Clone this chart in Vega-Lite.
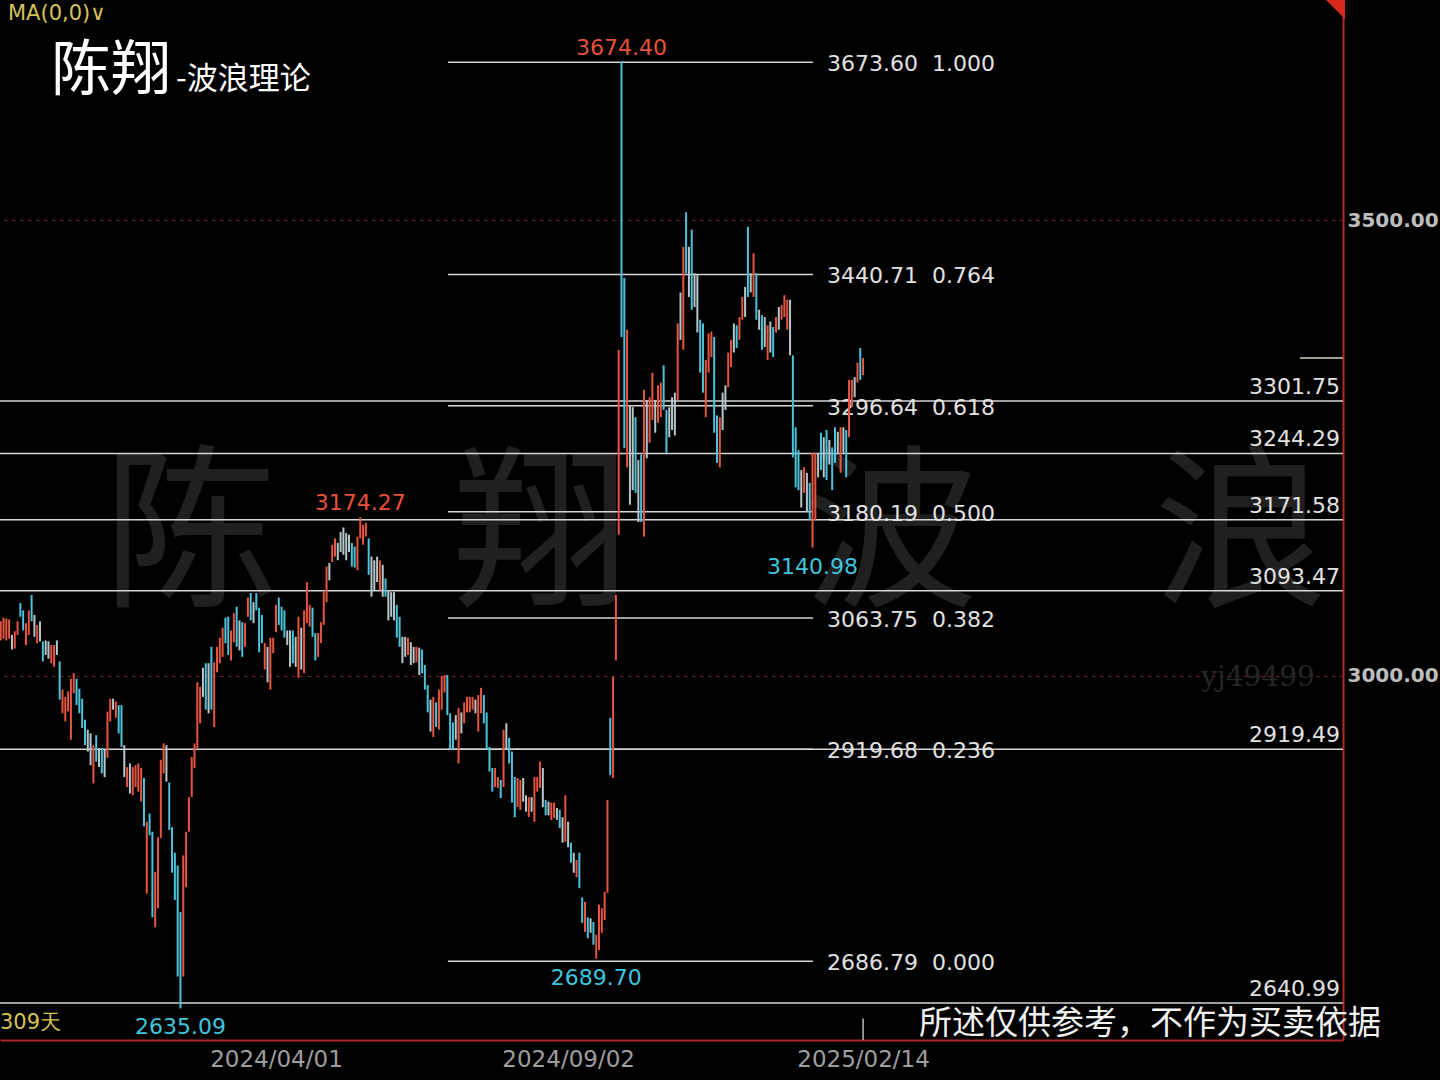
{
"$schema":"https://vega.github.io/schema/vega-lite/v6.json",
"width":1343,"height":1040,"autosize":"none",
"padding":{"left":0,"top":0,"right":97,"bottom":40},
"background":"#000000",
"config":{"view":{"stroke":null}},
"layer":[
{"data":{"values":[{"i":36.4,"p":3149.2,"t":"陈　翔　波　浪"}]},
 "mark":{"type":"text","align":"left","baseline":"middle","font":"Noto Sans CJK SC","fontSize":175,"color":"#202020"},
 "encoding":{"x":{"field":"i","type":"quantitative","scale":{"domain":[-0.25,477.85],"nice":false,"zero":false}},
  "y":{"field":"p","type":"quantitative","scale":{"domain":[2600.4,3742],"nice":false,"zero":false}},
  "text":{"field":"t"}}},
{"data":{"values":[{"i":447.6,"p":2997.8,"t":"yj49499"}]},
 "mark":{"type":"text","align":"center","baseline":"middle","font":"DejaVu Serif","fontSize":28,"color":"#262626"},
 "encoding":{"x":{"field":"i","type":"quantitative","scale":{"domain":[-0.25,477.85],"nice":false,"zero":false}},
  "y":{"field":"p","type":"quantitative","scale":{"domain":[2600.4,3742],"nice":false,"zero":false}},
  "text":{"field":"t"}}},
{"data":{"values":[{"p":3301.75},{"p":3244.29},{"p":3171.58},{"p":3093.47},{"p":2919.49},{"p":2640.99}]},
 "mark":{"type":"rule","color":"#d6d6d6","strokeWidth":1.5},
 "encoding":{"y":{"field":"p","type":"quantitative","scale":{"domain":[2600.4,3742],"nice":false,"zero":false}}}},
{"data":{"values":[{"p":3301.75},{"p":3244.29},{"p":3171.58},{"p":3093.47},{"p":2919.49},{"p":2640.99}]},
 "mark":{"type":"text","align":"right","baseline":"middle","dy":-14,"font":"DejaVu Sans","fontSize":22,"color":"#e2e2e2"},
 "encoding":{"x":{"datum":476.8,"type":"quantitative","scale":{"domain":[-0.25,477.85],"nice":false,"zero":false}},
  "y":{"field":"p","type":"quantitative","scale":{"domain":[2600.4,3742],"nice":false,"zero":false}},
  "text":{"field":"p","type":"quantitative","format":".2f"}}},
{"data":{"values":[{"p":3673.60,"r":"1.000"},{"p":3440.71,"r":"0.764"},{"p":3296.64,"r":"0.618"},{"p":3180.19,"r":"0.500"},{"p":3063.75,"r":"0.382"},{"p":2919.68,"r":"0.236"},{"p":2686.79,"r":"0.000"}]},
 "layer":[
  {"mark":{"type":"rule","color":"#d6d6d6","strokeWidth":1.5},
   "encoding":{"x":{"datum":159.2,"type":"quantitative","scale":{"domain":[-0.25,477.85],"nice":false,"zero":false}},
    "x2":{"datum":289.2},
    "y":{"field":"p","type":"quantitative","scale":{"domain":[2600.4,3742],"nice":false,"zero":false}}}},
  {"mark":{"type":"text","align":"left","baseline":"middle","dy":2,"font":"DejaVu Sans","fontSize":22,"color":"#e2e2e2"},
   "encoding":{"x":{"datum":294.2,"type":"quantitative","scale":{"domain":[-0.25,477.85],"nice":false,"zero":false}},
    "y":{"field":"p","type":"quantitative","scale":{"domain":[2600.4,3742],"nice":false,"zero":false}},
    "text":{"field":"p","type":"quantitative","format":".2f"}}},
  {"mark":{"type":"text","align":"left","baseline":"middle","dy":2,"font":"DejaVu Sans","fontSize":22,"color":"#e2e2e2"},
   "encoding":{"x":{"datum":331.5,"type":"quantitative","scale":{"domain":[-0.25,477.85],"nice":false,"zero":false}},
    "y":{"field":"p","type":"quantitative","scale":{"domain":[2600.4,3742],"nice":false,"zero":false}},
    "text":{"field":"r"}}}
 ]},
{"data":{"values":[{"i":462.5,"i2":477.85,"p":3349}]},
 "mark":{"type":"rule","color":"#d8cfbf","strokeWidth":1.5},
 "encoding":{"x":{"field":"i","type":"quantitative","scale":{"domain":[-0.25,477.85],"nice":false,"zero":false}},
  "x2":{"field":"i2"},
  "y":{"field":"p","type":"quantitative","scale":{"domain":[2600.4,3742],"nice":false,"zero":false}}}},
{"data":{"values":[
{"i":0,"p":3060,"l":3039,"c":"r"},{"i":1,"p":3064,"l":3041,"c":"r"},{"i":2,"p":3063,"l":3039,"c":"r"},{"i":3,"p":3062,"l":3041,"c":"r"},{"i":4,"p":3045,"l":3029,"c":"w"},
{"i":5,"p":3049,"l":3030,"c":"r"},{"i":6,"p":3060,"l":3045,"c":"r"},{"i":7,"p":3080,"l":3065,"c":"b"},{"i":8,"p":3072,"l":3050,"c":"b"},{"i":9,"p":3058,"l":3034,"c":"r"},
{"i":10,"p":3072,"l":3045,"c":"r"},{"i":11,"p":3089,"l":3060,"c":"b"},{"i":12,"p":3067,"l":3043,"c":"w"},{"i":13,"p":3056,"l":3036,"c":"r"},{"i":14,"p":3060,"l":3038,"c":"w"},
{"i":15,"p":3038,"l":3016,"c":"b"},{"i":16,"p":3039,"l":3023,"c":"w"},{"i":17,"p":3038,"l":3019,"c":"w"},{"i":18,"p":3034,"l":3014,"c":"r"},{"i":19,"p":3034,"l":3010,"c":"r"},
{"i":20,"p":3039,"l":3023,"c":"w"},{"i":21,"p":3016,"l":2974,"c":"b"},{"i":22,"p":2985,"l":2959,"c":"r"},{"i":23,"p":2977,"l":2950,"c":"r"},{"i":24,"p":2983,"l":2961,"c":"r"},
{"i":25,"p":2997,"l":2930,"c":"r"},{"i":26,"p":3003,"l":2981,"c":"r"},{"i":27,"p":2997,"l":2968,"c":"b"},{"i":28,"p":2986,"l":2959,"c":"b"},{"i":29,"p":2975,"l":2943,"c":"b"},
{"i":30,"p":2952,"l":2924,"c":"b"},{"i":31,"p":2941,"l":2917,"c":"w"},{"i":32,"p":2937,"l":2902,"c":"w"},{"i":33,"p":2924,"l":2882,"c":"r"},{"i":34,"p":2935,"l":2906,"c":"b"},
{"i":35,"p":2921,"l":2900,"c":"w"},{"i":36,"p":2921,"l":2893,"c":"b"},{"i":37,"p":2919,"l":2889,"c":"w"},{"i":38,"p":2961,"l":2910,"c":"r"},{"i":39,"p":2975,"l":2950,"c":"r"},
{"i":40,"p":2975,"l":2963,"c":"w"},{"i":41,"p":2972,"l":2954,"c":"r"},{"i":42,"p":2968,"l":2937,"c":"b"},{"i":43,"p":2968,"l":2922,"c":"b"},{"i":44,"p":2924,"l":2889,"c":"w"},
{"i":45,"p":2900,"l":2878,"c":"r"},{"i":46,"p":2904,"l":2871,"c":"w"},{"i":47,"p":2900,"l":2869,"c":"r"},{"i":48,"p":2902,"l":2878,"c":"r"},{"i":49,"p":2904,"l":2873,"c":"r"},
{"i":50,"p":2899,"l":2862,"c":"r"},{"i":51,"p":2888,"l":2835,"c":"b"},{"i":52,"p":2840,"l":2761,"c":"r"},{"i":53,"p":2849,"l":2825,"c":"b"},{"i":54,"p":2829,"l":2735,"c":"b"},
{"i":55,"p":2785,"l":2724,"c":"r"},{"i":56,"p":2823,"l":2745,"c":"r"},{"i":57,"p":2908,"l":2822,"c":"r"},{"i":58,"p":2926,"l":2893,"c":"r"},{"i":59,"p":2924,"l":2884,"c":"w"},
{"i":60,"p":2883,"l":2831,"c":"b"},{"i":61,"p":2834,"l":2784,"c":"b"},{"i":62,"p":2806,"l":2754,"c":"b"},{"i":63,"p":2792,"l":2670,"c":"b"},{"i":64,"p":2741,"l":2635.09,"c":"b"},
{"i":65,"p":2803,"l":2670,"c":"r"},{"i":66,"p":2829,"l":2768,"c":"r"},{"i":67,"p":2867,"l":2829,"c":"r"},{"i":68,"p":2911,"l":2867,"c":"r"},{"i":69,"p":2926,"l":2899,"c":"r"},
{"i":70,"p":2993,"l":2921,"c":"r"},{"i":71,"p":2988,"l":2948,"c":"r"},{"i":72,"p":3009,"l":2977,"c":"w"},{"i":73,"p":3014,"l":2963,"c":"b"},{"i":74,"p":3014,"l":2959,"c":"w"},
{"i":75,"p":3032,"l":2963,"c":"b"},{"i":76,"p":3015,"l":2944,"c":"r"},{"i":77,"p":3032,"l":3004,"c":"r"},{"i":78,"p":3042,"l":3014,"c":"r"},{"i":79,"p":3053,"l":3021,"c":"r"},
{"i":80,"p":3064,"l":3036,"c":"b"},{"i":81,"p":3065,"l":3023,"c":"b"},{"i":82,"p":3050,"l":3017,"c":"r"},{"i":83,"p":3069,"l":3037,"c":"r"},{"i":84,"p":3076,"l":3032,"c":"b"},
{"i":85,"p":3061,"l":3028,"c":"w"},{"i":86,"p":3059,"l":3021,"c":"b"},{"i":87,"p":3058,"l":3032,"c":"r"},{"i":88,"p":3086,"l":3065,"c":"r"},{"i":89,"p":3091,"l":3061,"c":"b"},
{"i":90,"p":3081,"l":3058,"c":"w"},{"i":91,"p":3091,"l":3072,"c":"b"},{"i":92,"p":3075,"l":3026,"c":"b"},{"i":93,"p":3067,"l":3036,"c":"b"},{"i":94,"p":3036,"l":3007,"c":"r"},
{"i":95,"p":3032,"l":2993,"c":"w"},{"i":96,"p":3042,"l":2985,"c":"r"},{"i":97,"p":3042,"l":3025,"c":"r"},{"i":98,"p":3078,"l":3048,"c":"r"},{"i":99,"p":3086,"l":3056,"c":"b"},
{"i":100,"p":3076,"l":3050,"c":"b"},{"i":101,"p":3072,"l":3042,"c":"b"},{"i":102,"p":3050,"l":3034,"c":"w"},{"i":103,"p":3050,"l":3010,"c":"w"},{"i":104,"p":3050,"l":3014,"c":"b"},
{"i":105,"p":3043,"l":3010,"c":"w"},{"i":106,"p":3065,"l":2998,"c":"r"},{"i":107,"p":3053,"l":3007,"c":"w"},{"i":108,"p":3072,"l":3003,"c":"r"},{"i":109,"p":3103,"l":3058,"c":"r"},
{"i":110,"p":3078,"l":3054,"c":"r"},{"i":111,"p":3075,"l":3043,"c":"b"},{"i":112,"p":3047,"l":3017,"c":"b"},{"i":113,"p":3047,"l":3021,"c":"r"},{"i":114,"p":3059,"l":3036,"c":"r"},
{"i":115,"p":3092,"l":3056,"c":"r"},{"i":116,"p":3120,"l":3081,"c":"r"},{"i":117,"p":3124,"l":3105,"c":"w"},{"i":118,"p":3144,"l":3125,"c":"r"},{"i":119,"p":3151,"l":3131,"c":"r"},
{"i":120,"p":3146,"l":3127,"c":"w"},{"i":121,"p":3158,"l":3136,"c":"w"},{"i":122,"p":3163,"l":3133,"c":"w"},{"i":123,"p":3157,"l":3127,"c":"w"},{"i":124,"p":3155,"l":3136,"c":"w"},
{"i":125,"p":3146,"l":3120,"c":"b"},{"i":126,"p":3142,"l":3119,"c":"b"},{"i":127,"p":3153,"l":3116,"c":"r"},{"i":128,"p":3174.27,"l":3151,"c":"r"},{"i":129,"p":3166,"l":3144,"c":"r"},
{"i":130,"p":3168,"l":3153,"c":"r"},{"i":131,"p":3151,"l":3111,"c":"b"},{"i":132,"p":3131,"l":3087,"c":"w"},{"i":133,"p":3127,"l":3094,"c":"w"},{"i":134,"p":3131,"l":3103,"c":"w"},
{"i":135,"p":3127,"l":3094,"c":"r"},{"i":136,"p":3122,"l":3087,"c":"w"},{"i":137,"p":3107,"l":3087,"c":"b"},{"i":138,"p":3094,"l":3061,"c":"w"},{"i":139,"p":3092,"l":3065,"c":"w"},
{"i":140,"p":3092,"l":3061,"c":"w"},{"i":141,"p":3078,"l":3042,"c":"b"},{"i":142,"p":3065,"l":3032,"c":"b"},{"i":143,"p":3043,"l":3014,"c":"w"},{"i":144,"p":3043,"l":3021,"c":"w"},
{"i":145,"p":3042,"l":3023,"c":"r"},{"i":146,"p":3037,"l":3012,"c":"w"},{"i":147,"p":3032,"l":3014,"c":"w"},{"i":148,"p":3032,"l":3015,"c":"r"},{"i":149,"p":3031,"l":3001,"c":"w"},
{"i":150,"p":3029,"l":3003,"c":"b"},{"i":151,"p":3012,"l":2985,"c":"b"},{"i":152,"p":2990,"l":2960,"c":"b"},{"i":153,"p":2974,"l":2939,"c":"w"},{"i":154,"p":2977,"l":2933,"c":"r"},
{"i":155,"p":2971,"l":2944,"c":"b"},{"i":156,"p":2985,"l":2941,"c":"r"},{"i":157,"p":3000,"l":2963,"c":"r"},{"i":158,"p":3001,"l":2982,"c":"r"},{"i":159,"p":3001,"l":2957,"c":"b"},
{"i":160,"p":2959,"l":2919,"c":"b"},{"i":161,"p":2949,"l":2919,"c":"b"},{"i":162,"p":2957,"l":2930,"c":"w"},{"i":163,"p":2965,"l":2904,"c":"r"},{"i":164,"p":2960,"l":2937,"c":"w"},
{"i":165,"p":2971,"l":2948,"c":"r"},{"i":166,"p":2977,"l":2960,"c":"r"},{"i":167,"p":2977,"l":2960,"c":"r"},{"i":168,"p":2977,"l":2963,"c":"r"},{"i":169,"p":2974,"l":2959,"c":"w"},
{"i":170,"p":2979,"l":2939,"c":"r"},{"i":171,"p":2987,"l":2959,"c":"r"},{"i":172,"p":2979,"l":2948,"c":"b"},{"i":173,"p":2960,"l":2919,"c":"b"},{"i":174,"p":2922,"l":2895,"c":"b"},
{"i":175,"p":2899,"l":2873,"c":"b"},{"i":176,"p":2899,"l":2878,"c":"r"},{"i":177,"p":2889,"l":2877,"c":"r"},{"i":178,"p":2886,"l":2866,"c":"b"},{"i":179,"p":2941,"l":2878,"c":"r"},
{"i":180,"p":2948,"l":2919,"c":"w"},{"i":181,"p":2932,"l":2904,"c":"b"},{"i":182,"p":2917,"l":2861,"c":"b"},{"i":183,"p":2889,"l":2845,"c":"b"},{"i":184,"p":2888,"l":2856,"c":"r"},
{"i":185,"p":2886,"l":2853,"c":"r"},{"i":186,"p":2888,"l":2862,"c":"w"},{"i":187,"p":2869,"l":2851,"c":"w"},{"i":188,"p":2867,"l":2845,"c":"r"},{"i":189,"p":2867,"l":2851,"c":"w"},
{"i":190,"p":2889,"l":2840,"c":"r"},{"i":191,"p":2889,"l":2873,"c":"r"},{"i":192,"p":2906,"l":2877,"c":"r"},{"i":193,"p":2899,"l":2856,"c":"w"},{"i":194,"p":2864,"l":2847,"c":"b"},
{"i":195,"p":2862,"l":2847,"c":"w"},{"i":196,"p":2861,"l":2842,"c":"r"},{"i":197,"p":2861,"l":2844,"c":"r"},{"i":198,"p":2855,"l":2842,"c":"w"},{"i":199,"p":2853,"l":2833,"c":"b"},
{"i":200,"p":2845,"l":2817,"c":"w"},{"i":201,"p":2869,"l":2818,"c":"r"},{"i":202,"p":2840,"l":2812,"c":"w"},{"i":203,"p":2817,"l":2795,"c":"b"},{"i":204,"p":2806,"l":2784,"c":"w"},
{"i":205,"p":2798,"l":2779,"c":"r"},{"i":206,"p":2806,"l":2767,"c":"b"},{"i":207,"p":2757,"l":2729,"c":"b"},{"i":208,"p":2752,"l":2719,"c":"r"},{"i":209,"p":2735,"l":2712,"c":"b"},
{"i":210,"p":2734,"l":2718,"c":"w"},{"i":211,"p":2730,"l":2705,"c":"b"},{"i":212,"p":2716,"l":2689.7,"c":"r"},{"i":213,"p":2749,"l":2699,"c":"r"},{"i":214,"p":2745,"l":2718,"c":"r"},
{"i":215,"p":2763,"l":2732,"c":"r"},{"i":216,"p":2864,"l":2762,"c":"r"},{"i":217,"p":2954,"l":2891,"c":"b"},{"i":218,"p":2999,"l":2888,"c":"r"},{"i":219,"p":3089,"l":3017,"c":"r"},
{"i":220,"p":3358,"l":3155,"c":"r"},{"i":221,"p":3674.4,"l":3372,"c":"b"},{"i":222,"p":3437,"l":3250,"c":"b"},{"i":223,"p":3380,"l":3229,"c":"r"},{"i":224,"p":3297,"l":3188,"c":"w"},
{"i":225,"p":3295,"l":3204,"c":"w"},{"i":226,"p":3284,"l":3201,"c":"b"},{"i":227,"p":3237,"l":3169,"c":"w"},{"i":228,"p":3243,"l":3169,"c":"b"},{"i":229,"p":3314,"l":3153,"c":"r"},
{"i":230,"p":3303,"l":3239,"c":"w"},{"i":231,"p":3306,"l":3256,"c":"r"},{"i":232,"p":3333,"l":3281,"c":"r"},{"i":233,"p":3303,"l":3267,"c":"w"},{"i":234,"p":3319,"l":3278,"c":"r"},
{"i":235,"p":3322,"l":3284,"c":"r"},{"i":236,"p":3341,"l":3292,"c":"b"},{"i":237,"p":3292,"l":3245,"c":"b"},{"i":238,"p":3295,"l":3262,"c":"w"},{"i":239,"p":3306,"l":3270,"c":"w"},
{"i":240,"p":3311,"l":3264,"c":"w"},{"i":241,"p":3387,"l":3303,"c":"r"},{"i":242,"p":3421,"l":3369,"c":"w"},{"i":243,"p":3471,"l":3358,"c":"r"},{"i":244,"p":3509,"l":3442,"c":"b"},
{"i":245,"p":3471,"l":3416,"c":"w"},{"i":246,"p":3490,"l":3402,"c":"b"},{"i":247,"p":3442,"l":3405,"c":"w"},{"i":248,"p":3440,"l":3377,"c":"w"},{"i":249,"p":3391,"l":3333,"c":"b"},
{"i":250,"p":3387,"l":3311,"c":"b"},{"i":251,"p":3347,"l":3284,"c":"r"},{"i":252,"p":3376,"l":3333,"c":"r"},{"i":253,"p":3378,"l":3350,"c":"r"},{"i":254,"p":3372,"l":3267,"c":"b"},
{"i":255,"p":3286,"l":3234,"c":"b"},{"i":256,"p":3284,"l":3229,"c":"r"},{"i":257,"p":3311,"l":3270,"c":"w"},{"i":258,"p":3319,"l":3292,"c":"w"},{"i":259,"p":3355,"l":3317,"c":"r"},
{"i":260,"p":3369,"l":3339,"c":"r"},{"i":261,"p":3387,"l":3355,"c":"w"},{"i":262,"p":3385,"l":3360,"c":"b"},{"i":263,"p":3394,"l":3369,"c":"r"},{"i":264,"p":3416,"l":3391,"c":"r"},
{"i":265,"p":3427,"l":3394,"c":"w"},{"i":266,"p":3493,"l":3416,"c":"b"},{"i":267,"p":3442,"l":3421,"c":"w"},{"i":268,"p":3464,"l":3416,"c":"r"},{"i":269,"p":3442,"l":3391,"c":"b"},
{"i":270,"p":3402,"l":3380,"c":"w"},{"i":271,"p":3396,"l":3358,"c":"b"},{"i":272,"p":3394,"l":3361,"c":"w"},{"i":273,"p":3385,"l":3347,"c":"r"},{"i":274,"p":3389,"l":3355,"c":"w"},
{"i":275,"p":3383,"l":3350,"c":"b"},{"i":276,"p":3394,"l":3377,"c":"r"},{"i":277,"p":3405,"l":3380,"c":"w"},{"i":278,"p":3407,"l":3391,"c":"r"},{"i":279,"p":3418,"l":3394,"c":"r"},
{"i":280,"p":3413,"l":3380,"c":"r"},{"i":281,"p":3413,"l":3352,"c":"w"},{"i":282,"p":3352,"l":3240,"c":"b"},{"i":283,"p":3273,"l":3207,"c":"b"},{"i":284,"p":3248,"l":3204,"c":"b"},
{"i":285,"p":3226,"l":3185,"c":"w"},{"i":286,"p":3229,"l":3201,"c":"r"},{"i":287,"p":3223,"l":3180,"c":"w"},{"i":288,"p":3212,"l":3171,"c":"b"},{"i":289,"p":3245,"l":3140.98,"c":"r"},
{"i":290,"p":3245,"l":3171,"c":"r"},{"i":291,"p":3245,"l":3218,"c":"w"},{"i":292,"p":3267,"l":3226,"c":"b"},{"i":293,"p":3262,"l":3218,"c":"w"},{"i":294,"p":3270,"l":3215,"c":"b"},
{"i":295,"p":3259,"l":3232,"c":"w"},{"i":296,"p":3251,"l":3204,"c":"b"},{"i":297,"p":3273,"l":3234,"c":"b"},{"i":298,"p":3268,"l":3245,"c":"w"},{"i":299,"p":3273,"l":3223,"c":"r"},
{"i":300,"p":3273,"l":3245,"c":"w"},{"i":301,"p":3270,"l":3218,"c":"b"},{"i":302,"p":3325,"l":3262,"c":"r"},{"i":303,"p":3325,"l":3295,"c":"r"},{"i":304,"p":3328,"l":3306,"c":"w"},
{"i":305,"p":3344,"l":3322,"c":"r"},{"i":306,"p":3360,"l":3325,"c":"b"},{"i":307,"p":3349,"l":3330,"c":"r"}
]},
 "mark":{"type":"rule","strokeWidth":2},
 "encoding":{
  "x":{"field":"i","type":"quantitative","scale":{"domain":[-0.25,477.85],"nice":false,"zero":false},
   "axis":{"orient":"bottom","values":[98,202,307],"labelExpr":"datum.value==98?'2024/04/01':(datum.value==202?'2024/09/02':'2025/02/14')","title":null,"ticks":false,"grid":false,"labelColor":"#9e9e9e","labelFont":"DejaVu Sans","labelFontSize":23,"labelPadding":8,"labelFlush":false,"labelOverlap":false,"domainColor":"#b02828","domainWidth":2}},
  "y":{"field":"p","type":"quantitative","scale":{"domain":[2600.4,3742],"nice":false,"zero":false},
   "axis":{"orient":"right","values":[3000,3500],"format":".2f","title":null,"ticks":false,"labelColor":"#bdbdbd","labelFont":"DejaVu Sans","labelFontSize":20,"labelFontWeight":"bold","labelPadding":4,"labelAlign":"left","labelBaseline":"middle","domainColor":"#b02828","domainWidth":2,"grid":true,"gridColor":"#6e2222","gridDash":[4,4],"gridWidth":1.2}},
  "y2":{"field":"l"},
  "color":{"field":"c","type":"nominal","scale":{"domain":["r","b","w"],"range":["#e5553f","#4cc3dc","#b6c7cb"]},"legend":null}}},
{"data":{"values":[{"i":221,"p":3674.4,"t":"3674.40"},{"i":128,"p":3174.27,"t":"3174.27"}]},
 "mark":{"type":"text","align":"center","baseline":"middle","dy":-14,"font":"DejaVu Sans","fontSize":22,"color":"#e8503c"},
 "encoding":{"x":{"field":"i","type":"quantitative","scale":{"domain":[-0.25,477.85],"nice":false,"zero":false}},
  "y":{"field":"p","type":"quantitative","scale":{"domain":[2600.4,3742],"nice":false,"zero":false}},
  "text":{"field":"t"}}},
{"data":{"values":[{"i":289,"p":3140.98,"t":"3140.98"},{"i":212,"p":2689.7,"t":"2689.70"},{"i":64,"p":2635.09,"t":"2635.09"}]},
 "mark":{"type":"text","align":"center","baseline":"middle","dy":19,"font":"DejaVu Sans","fontSize":22,"color":"#3ec6de"},
 "encoding":{"x":{"field":"i","type":"quantitative","scale":{"domain":[-0.25,477.85],"nice":false,"zero":false}},
  "y":{"field":"p","type":"quantitative","scale":{"domain":[2600.4,3742],"nice":false,"zero":false}},
  "text":{"field":"t"}}},
{"data":{"values":[{"i":2.6,"p":3727.7,"t":"MA(0,0)∨"},{"i":-0.25,"p":2620.2,"t":"309天"}]},
 "mark":{"type":"text","align":"left","baseline":"middle","dy":1,"font":"DejaVu Sans","fontSize":21,"color":"#d6c35a"},
 "encoding":{"x":{"field":"i","type":"quantitative","scale":{"domain":[-0.25,477.85],"nice":false,"zero":false}},
  "y":{"field":"p","type":"quantitative","scale":{"domain":[2600.4,3742],"nice":false,"zero":false}},
  "text":{"field":"t"}}},
{"data":{"values":[{"i":39.3,"p":3665.2,"t":"陈翔"}]},
 "mark":{"type":"text","align":"center","baseline":"middle","dy":2,"font":"Noto Sans CJK SC","fontSize":60,"color":"#ffffff"},
 "encoding":{"x":{"field":"i","type":"quantitative","scale":{"domain":[-0.25,477.85],"nice":false,"zero":false}},
  "y":{"field":"p","type":"quantitative","scale":{"domain":[2600.4,3742],"nice":false,"zero":false}},
  "text":{"field":"t"}}},
{"data":{"values":[{"i":62.4,"p":3654.2,"t":"-波浪理论"}]},
 "mark":{"type":"text","align":"left","baseline":"middle","font":"Noto Sans CJK SC","fontSize":31,"color":"#ffffff"},
 "encoding":{"x":{"field":"i","type":"quantitative","scale":{"domain":[-0.25,477.85],"nice":false,"zero":false}},
  "y":{"field":"p","type":"quantitative","scale":{"domain":[2600.4,3742],"nice":false,"zero":false}},
  "text":{"field":"t"}}},
{"data":{"values":[{"i":409.1,"p":2620.2,"t":"所述仅供参考，不作为买卖依据"}]},
 "mark":{"type":"text","align":"center","baseline":"middle","dy":2,"font":"Noto Sans CJK SC","fontSize":33,"color":"#f2f2f2"},
 "encoding":{"x":{"field":"i","type":"quantitative","scale":{"domain":[-0.25,477.85],"nice":false,"zero":false}},
  "y":{"field":"p","type":"quantitative","scale":{"domain":[2600.4,3742],"nice":false,"zero":false}},
  "text":{"field":"t"}}},
{"data":{"values":[{"i":307,"p":2624,"l":2600.4}]},
 "mark":{"type":"rule","color":"#bbbbbb","strokeWidth":1.5},
 "encoding":{"x":{"field":"i","type":"quantitative","scale":{"domain":[-0.25,477.85],"nice":false,"zero":false}},
  "y":{"field":"p","type":"quantitative","scale":{"domain":[2600.4,3742],"nice":false,"zero":false}},
  "y2":{"field":"l"}}},
{"data":{"values":[{"i":475.0,"p":3732.1}]},
 "mark":{"type":"point","shape":"M -1 -1 L 1 -1 L 1 1 Z","size":400,"filled":true,"color":"#d8281e","opacity":1},
 "encoding":{"x":{"field":"i","type":"quantitative","scale":{"domain":[-0.25,477.85],"nice":false,"zero":false}},
  "y":{"field":"p","type":"quantitative","scale":{"domain":[2600.4,3742],"nice":false,"zero":false}}}}
]
}
